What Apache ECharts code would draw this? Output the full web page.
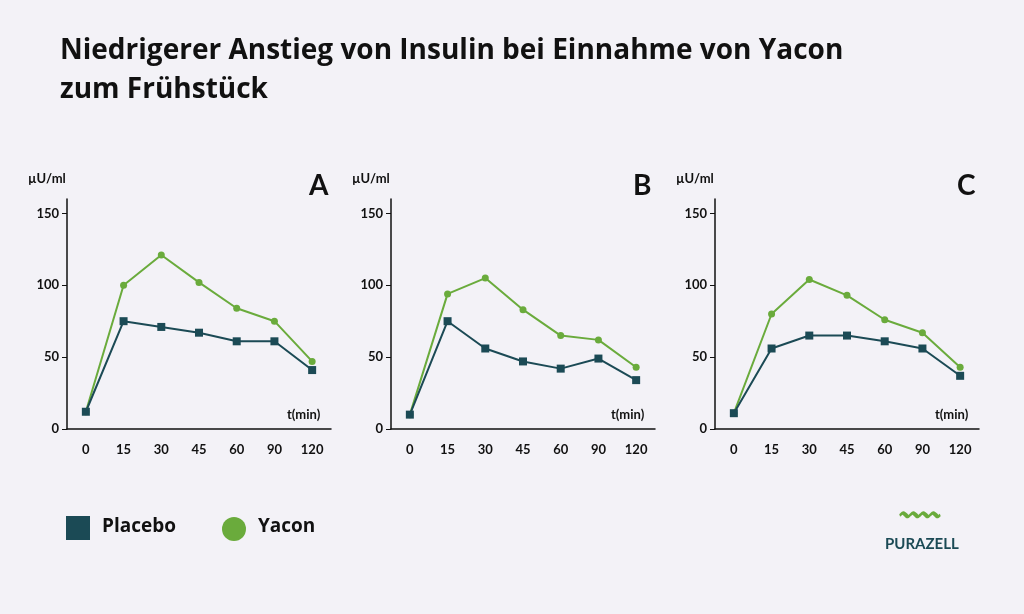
<!DOCTYPE html><html><head><meta charset="utf-8"><script src="https://cdn.jsdelivr.net/npm/echarts@6/dist/echarts.min.js"></script>
<style>body{margin:0;background:#f3f2f7}#c{width:1024px;height:614px}</style></head><body><div id="c"></div><script>
const categories=['0','15','30','45','60','90','120'];
const placeboA=[12,75,71,67,61,61,41];
const yaconA=[12,100,121,102,84,75,47];
const placeboB=[10,75,56,47,42,49,34];
const yaconB=[10,94,105,83,65,62,43];
const placeboC=[11,56,65,65,61,56,37];
const yaconC=[11,80,104,93,76,67,43];
const panelLabels=['A','B','C'];
const dark='#1b4a55',green='#6aab3c',F='Lato, "Noto Sans", sans-serif';
const lefts=[67,391,715];
const grids=[],xs=[],ys=[],series=[],graphic=[];
const P=[placeboA,placeboB,placeboC],Y=[yaconA,yaconB,yaconC];
lefts.forEach((l,i)=>{
 grids.push({left:l,width:264,top:199,bottom:185});
 xs.push({type:'category',gridIndex:i,data:categories,axisLine:{lineStyle:{color:'#111',width:1.5}},axisTick:{show:false},axisLabel:{color:'#111',fontWeight:'bold',fontSize:13,fontFamily:F,margin:14},name:'t(min)',nameLocation:'end',nameGap:-44,nameTextStyle:{color:'#111',fontWeight:'bold',fontSize:13,fontFamily:F,verticalAlign:'bottom',padding:[0,0,8,0]}});
 ys.push({type:'value',gridIndex:i,min:0,max:160,interval:50,splitLine:{show:false},axisLine:{show:true,lineStyle:{color:'#111',width:1.5}},axisTick:{show:true,customValues:[0,50,100,150],length:5,lineStyle:{color:'#111'}},axisLabel:{customValues:[0,50,100,150],color:'#111',fontWeight:'bold',fontSize:13,fontFamily:F,margin:8}});
 series.push({type:'line',xAxisIndex:i,yAxisIndex:i,data:Y[i],symbol:'circle',symbolSize:7,itemStyle:{color:green},lineStyle:{color:green,width:2}});
 series.push({type:'line',xAxisIndex:i,yAxisIndex:i,data:P[i],symbol:'rect',symbolSize:8,itemStyle:{color:dark},lineStyle:{color:dark,width:2}});
 graphic.push({type:'text',left:l-39,top:172,style:{text:'µU/ml',font:'bold 13px '+F,fill:'#111'}});
 graphic.push({type:'text',left:l+242,top:172,style:{text:panelLabels[i],font:'bold 28px '+F,fill:'#111'}});
});
graphic.push({type:'text',left:60,top:32,style:{text:'Niedrigerer Anstieg von Insulin bei Einnahme von Yacon\nzum Frühstück',font:'bold 28px "Open Sans", sans-serif',lineHeight:39,fill:'#111'}});
graphic.push({type:'rect',shape:{x:66,y:516,width:24,height:24},style:{fill:dark}});
graphic.push({type:'text',left:102,top:517,style:{text:'Placebo',font:'bold 19px "Open Sans", sans-serif',fill:'#111'}});
graphic.push({type:'circle',shape:{cx:234,cy:529,r:12},style:{fill:green}});
graphic.push({type:'text',left:258,top:517,style:{text:'Yacon',font:'bold 19px "Open Sans", sans-serif',fill:'#111'}});
graphic.push({type:'text',left:885,top:537,style:{text:'PURAZELL',font:'bold 15px '+F,fill:dark}});
graphic.push({type:'text',left:900,top:505,style:{text:'〰〰',font:'bold 20px '+F,fill:green}});
echarts.init(document.getElementById('c')).setOption({backgroundColor:'#f3f2f7',animation:false,grid:grids,xAxis:xs,yAxis:ys,series,graphic});
</script></body></html>
